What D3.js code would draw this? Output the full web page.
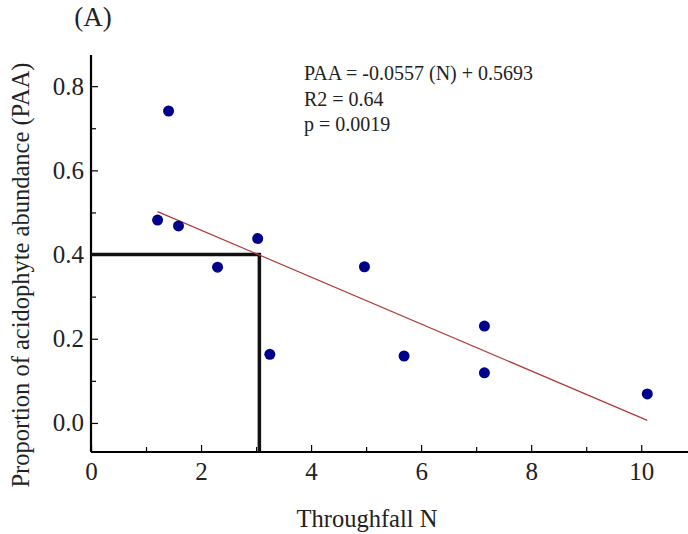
<!DOCTYPE html>
<html lang="en">
<head>
  <meta charset="UTF-8">
  <title>Proportion of acidophyte abundance vs throughfall N</title>
  <script src="https://cdn.jsdelivr.net/npm/d3@7"></script>
  <style>
    body { margin:0; background:#fff; }
    svg { display:block; font-family:"Liberation Serif", "Times New Roman", serif; }
  </style>
</head>
<body>
  <svg id="chart" width="688" height="534"></svg>

  <script>
  // data
  const throughfallN = [1.21, 1.41, 1.59, 2.30, 3.03, 3.25, 4.97, 5.69, 7.15, 7.15, 10.11];
  const paa          = [0.482, 0.741, 0.468, 0.370, 0.438, 0.163, 0.371, 0.159, 0.230, 0.119, 0.069];
  const xTicks = [0, 2, 4, 6, 8, 10];
  const yTicks = [0.0, 0.2, 0.4, 0.6, 0.8];
  const fitSlope = -0.0557, fitIntercept = 0.5693;
  const threshold = { x: 3.06, y: 0.4 };
  const statsLines = ["PAA = -0.0557 (N) + 0.5693", "R2 = 0.64", "p = 0.0019"];

  const svg = d3.select("#chart");

  const x = d3.scaleLinear().domain([0, 10.85]).range([91, 688]);
  const y = d3.scaleLinear().domain([-0.069, 0.874]).range([452, 55]);

  // minor ticks (inward, no labels)
  svg.append("g")
    .attr("transform", `translate(0,${y.range()[0]})`)
    .call(d3.axisTop(x).tickValues(d3.range(1, 11, 2)).tickSize(5).tickFormat(""))
    .call(g => g.select(".domain").remove())
    .selectAll("line").attr("stroke-width", 1.2);
  svg.append("g")
    .attr("transform", `translate(${x.range()[0]},0)`)
    .call(d3.axisRight(y).tickValues([0.1, 0.3, 0.5, 0.7]).tickSize(5).tickFormat(""))
    .call(g => g.select(".domain").remove())
    .selectAll("line").attr("stroke-width", 1.2);

  // x axis
  const gx = svg.append("g")
    .attr("transform", `translate(0,${y.range()[0]})`)
    .call(d3.axisTop(x).tickValues(xTicks).tickSize(7).tickFormat(d3.format("d")));
  gx.select(".domain").attr("d", `M${x.range()[0]},0H${x.range()[1]}`).attr("stroke-width", 2.2);
  gx.selectAll(".tick line").attr("stroke-width", 1.2);
  gx.selectAll(".tick text")
    .attr("y", 28).attr("dy", null)
    .attr("font-size", 25).attr("font-family", "Liberation Serif").attr("fill", "#222");

  // y axis
  const gy = svg.append("g")
    .attr("transform", `translate(${x.range()[0]},0)`)
    .call(d3.axisRight(y).tickValues(yTicks).tickSize(7).tickFormat(d3.format(".1f")));
  gy.select(".domain").attr("d", `M0,${y.range()[0]}V${y.range()[1]}`).attr("stroke-width", 2.2);
  gy.selectAll(".tick line").attr("stroke-width", 1.2);
  gy.selectAll(".tick text")
    .attr("x", -7).attr("text-anchor", "end")
    .attr("font-size", 25).attr("font-family", "Liberation Serif").attr("fill", "#222");

  // threshold lines
  svg.append("path")
    .attr("d", `M${x(0)},${y(threshold.y)}H${x(threshold.x)}V${y.range()[0]}`)
    .attr("fill", "none")
    .attr("stroke", "#111")
    .attr("stroke-width", 3.5);

  // regression line
  const xMin = d3.min(throughfallN), xMax = d3.max(throughfallN);
  svg.append("line")
    .attr("x1", x(xMin)).attr("y1", y(fitSlope * xMin + fitIntercept))
    .attr("x2", x(xMax)).attr("y2", y(fitSlope * xMax + fitIntercept))
    .attr("stroke", "#b03a3a")
    .attr("stroke-width", 1.2);

  // points
  svg.append("g")
    .selectAll("circle")
    .data(throughfallN.map((n, i) => [n, paa[i]]))
    .join("circle")
      .attr("cx", d => x(d[0]))
      .attr("cy", d => y(d[1]))
      .attr("r", 5.5)
      .attr("fill", "#00008b");

  // stats text
  svg.append("g")
    .selectAll("text")
    .data(statsLines)
    .join("text")
      .attr("x", 304)
      .attr("y", (d, i) => 80 + i * 25.7)
      .attr("font-size", 20)
      .attr("fill", "#222")
      .text(d => d);

  // labels
  svg.append("text")
    .attr("x", 93).attr("y", 26)
    .attr("text-anchor", "middle")
    .attr("font-size", 27)
    .attr("fill", "#222")
    .text("(A)");

  svg.append("text")
    .attr("x", 367).attr("y", 527)
    .attr("text-anchor", "middle")
    .attr("font-size", 24.5)
    .attr("fill", "#222")
    .text("Throughfall N");

  svg.append("text")
    .attr("transform", `translate(29,275) rotate(-90)`)
    .attr("text-anchor", "middle")
    .attr("font-size", 24.5)
    .attr("fill", "#222")
    .text("Proportion of acidophyte abundance (PAA)");
  </script>
</body>
</html>
